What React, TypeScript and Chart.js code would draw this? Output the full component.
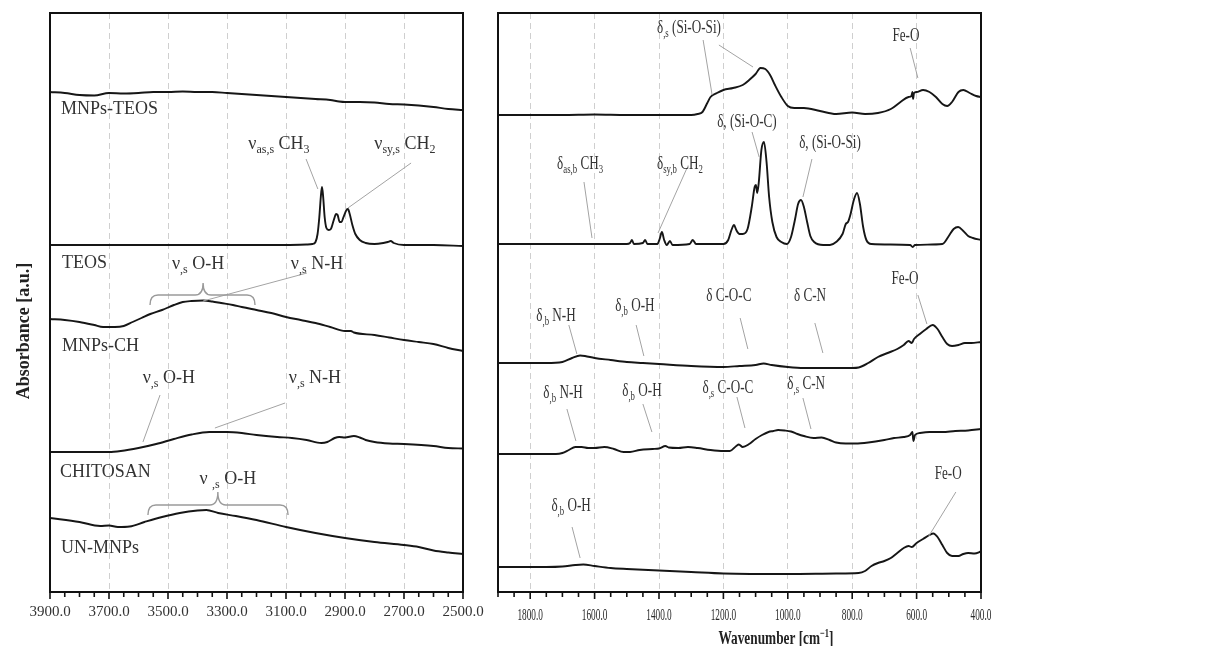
import React, { useEffect, useRef } from 'react';
import { Chart, registerables } from 'chart.js';

Chart.register(...registerables);

const SERIF = '"Liberation Serif", "Times New Roman", serif';
const INK = '#161616';
const TEXT = '#333333';
const LEADER = '#a3a3a3';
const GRID = '#cfcfcf';

type Pt = [number, number];

// ---------- left panel: 3900–2500 cm-1 (absorbance, offset, a.u.) ----------
const HI_TICK_LABELS = ['3900.0', '3700.0', '3500.0', '3300.0', '3100.0', '2900.0', '2700.0', '2500.0'];

const HI_MNPS_TEOS: Pt[] = [
  [3900, 5.0], [3850, 4.99], [3800, 4.97], [3750, 4.965], [3700, 4.99], [3650, 4.985], [3600, 4.99],
  [3550, 5.0], [3500, 5.0], [3450, 5.005], [3400, 5.0], [3350, 5.0], [3300, 4.99], [3250, 4.98],
  [3200, 4.97], [3150, 4.96], [3100, 4.95], [3050, 4.94], [3000, 4.93], [2950, 4.92], [2920, 4.905],
  [2900, 4.9], [2850, 4.9], [2800, 4.895], [2750, 4.88], [2700, 4.875], [2650, 4.865], [2600, 4.85],
  [2550, 4.83], [2500, 4.82],
];
const HI_TEOS: Pt[] = [
  [3900, 3.47], [3700, 3.47], [3500, 3.47], [3300, 3.47], [3100, 3.47], [3030, 3.475], [3010, 3.48],
  [3000, 3.5], [2993, 3.58], [2987, 3.75], [2982, 3.95], [2978, 4.05], [2974, 3.95], [2969, 3.75],
  [2963, 3.64], [2955, 3.62], [2948, 3.63], [2938, 3.72], [2930, 3.78], [2925, 3.77], [2918, 3.7],
  [2912, 3.7], [2905, 3.75], [2895, 3.82], [2890, 3.83], [2884, 3.78], [2875, 3.67], [2865, 3.58],
  [2850, 3.52], [2830, 3.49], [2800, 3.48], [2770, 3.49], [2755, 3.5], [2745, 3.51], [2735, 3.49],
  [2700, 3.47], [2600, 3.47], [2500, 3.46],
];
const HI_MNPS_CH: Pt[] = [
  [3900, 2.73], [3850, 2.72], [3800, 2.7], [3750, 2.67], [3720, 2.65], [3680, 2.65], [3650, 2.66],
  [3620, 2.7], [3590, 2.74], [3560, 2.78], [3520, 2.82], [3480, 2.87], [3450, 2.9], [3420, 2.91],
  [3380, 2.915], [3350, 2.905], [3320, 2.89], [3280, 2.87], [3250, 2.85], [3200, 2.82], [3150, 2.79],
  [3100, 2.75], [3050, 2.72], [3000, 2.69], [2950, 2.65], [2900, 2.61], [2880, 2.61], [2870, 2.595],
  [2800, 2.57], [2750, 2.545], [2700, 2.52], [2650, 2.5], [2600, 2.48], [2550, 2.44], [2500, 2.41],
];
const HI_CHITOSAN: Pt[] = [
  [3900, 1.4], [3800, 1.4], [3700, 1.4], [3660, 1.41], [3600, 1.44], [3540, 1.48], [3480, 1.53],
  [3420, 1.575], [3360, 1.6], [3300, 1.6], [3250, 1.59], [3200, 1.57], [3130, 1.55], [3080, 1.54],
  [3030, 1.52], [2980, 1.49], [2960, 1.5], [2935, 1.54], [2920, 1.55], [2900, 1.545], [2870, 1.56],
  [2850, 1.545], [2830, 1.52], [2800, 1.5], [2750, 1.485], [2700, 1.48], [2600, 1.46], [2550, 1.44],
  [2500, 1.435],
];
const HI_UN_MNPS: Pt[] = [
  [3900, 0.74], [3800, 0.7], [3730, 0.66], [3700, 0.665], [3670, 0.65], [3630, 0.655], [3580, 0.7],
  [3520, 0.75], [3460, 0.79], [3400, 0.815], [3370, 0.82], [3330, 0.79], [3270, 0.76], [3200, 0.72],
  [3100, 0.65], [3000, 0.59], [2900, 0.54], [2800, 0.5], [2700, 0.47], [2650, 0.45], [2600, 0.415],
  [2550, 0.395], [2500, 0.38],
];

// ---------- right panel: 1900–400 cm-1 ----------
const LO_TICK_LABELS = ['1800.0', '1600.0', '1400.0', '1200.0', '1000.0', '800.0', '600.0', '400.0'];

const LO_MNPS_TEOS: Pt[] = [
  [1900, 4.77], [1800, 4.77], [1700, 4.77], [1600, 4.775], [1500, 4.77], [1400, 4.77], [1300, 4.77],
  [1280, 4.78], [1265, 4.8], [1250, 4.89], [1240, 4.95], [1220, 4.99], [1200, 5.02], [1170, 5.04],
  [1140, 5.07], [1120, 5.12], [1100, 5.18], [1085, 5.24], [1070, 5.23], [1055, 5.17], [1040, 5.07],
  [1020, 4.95], [1000, 4.86], [980, 4.84], [950, 4.84], [900, 4.81], [850, 4.78], [800, 4.795],
  [760, 4.78], [720, 4.79], [680, 4.83], [650, 4.9], [625, 4.95], [616, 4.96], [613, 5.0], [611, 4.93],
  [608, 4.99], [600, 5.0], [580, 5.02], [560, 5.0], [540, 4.95], [520, 4.88], [505, 4.86], [490, 4.9],
  [470, 5.0], [455, 5.02], [435, 4.99], [415, 4.96], [400, 4.95],
];
const LO_TEOS: Pt[] = [
  [1900, 3.48], [1700, 3.48], [1500, 3.48], [1490, 3.49], [1484, 3.52], [1478, 3.48], [1450, 3.49],
  [1443, 3.52], [1436, 3.48], [1405, 3.48], [1398, 3.53], [1391, 3.6], [1384, 3.52], [1376, 3.47],
  [1366, 3.51], [1358, 3.47], [1305, 3.48], [1295, 3.52], [1285, 3.48], [1200, 3.48], [1185, 3.52],
  [1175, 3.62], [1167, 3.67], [1160, 3.62], [1150, 3.58], [1140, 3.58], [1125, 3.63], [1112, 3.85],
  [1103, 4.05], [1099, 4.07], [1095, 3.99], [1090, 4.1], [1082, 4.42], [1074, 4.5], [1066, 4.3],
  [1058, 3.95], [1048, 3.7], [1035, 3.55], [1020, 3.5], [1003, 3.48], [990, 3.55], [978, 3.72],
  [968, 3.88], [959, 3.92], [950, 3.85], [940, 3.7], [930, 3.56], [918, 3.5], [890, 3.47], [869, 3.47],
  [850, 3.5], [830, 3.58], [820, 3.68], [813, 3.7], [805, 3.78], [795, 3.92], [785, 3.99], [776, 3.88],
  [766, 3.65], [756, 3.52], [740, 3.48], [620, 3.47], [612, 3.45], [605, 3.47], [520, 3.48],
  [500, 3.56], [485, 3.63], [471, 3.65], [455, 3.61], [440, 3.56], [425, 3.54], [400, 3.52],
];
const LO_MNPS_CH: Pt[] = [
  [1900, 2.29], [1800, 2.29], [1750, 2.29], [1700, 2.3], [1670, 2.34], [1645, 2.365], [1630, 2.36],
  [1600, 2.34], [1550, 2.32], [1500, 2.3], [1450, 2.29], [1400, 2.28], [1300, 2.26], [1200, 2.25],
  [1150, 2.26], [1100, 2.27], [1075, 2.285], [1050, 2.27], [1000, 2.25], [950, 2.24], [900, 2.24],
  [850, 2.24], [800, 2.24], [780, 2.245], [750, 2.29], [720, 2.35], [690, 2.39], [660, 2.43],
  [640, 2.47], [625, 2.51], [615, 2.49], [608, 2.53], [590, 2.58], [570, 2.63], [550, 2.67],
  [535, 2.63], [520, 2.55], [505, 2.48], [490, 2.46], [470, 2.47], [450, 2.49], [430, 2.49], [400, 2.5],
];
const LO_CHITOSAN: Pt[] = [
  [1900, 1.38], [1800, 1.38], [1720, 1.38], [1700, 1.39], [1680, 1.42], [1660, 1.45], [1640, 1.45],
  [1620, 1.44], [1600, 1.44], [1570, 1.45], [1540, 1.43], [1510, 1.4], [1490, 1.4], [1460, 1.42],
  [1420, 1.43], [1400, 1.435], [1380, 1.46], [1370, 1.445], [1340, 1.44], [1310, 1.45], [1280, 1.44],
  [1240, 1.42], [1200, 1.41], [1180, 1.41], [1160, 1.46], [1152, 1.475], [1140, 1.45], [1120, 1.48],
  [1100, 1.53], [1080, 1.57], [1060, 1.6], [1045, 1.61], [1030, 1.62], [1010, 1.615], [990, 1.605],
  [970, 1.58], [950, 1.56], [920, 1.54], [895, 1.545], [870, 1.52], [850, 1.495], [820, 1.485],
  [790, 1.485], [750, 1.495], [700, 1.52], [670, 1.54], [640, 1.55], [620, 1.57], [613, 1.6],
  [610, 1.51], [605, 1.57], [590, 1.59], [560, 1.6], [520, 1.6], [480, 1.61], [440, 1.615], [400, 1.63],
];
const LO_UN_MNPS: Pt[] = [
  [1900, 0.25], [1800, 0.25], [1750, 0.25], [1700, 0.255], [1660, 0.27], [1635, 0.275], [1600, 0.26],
  [1550, 0.24], [1500, 0.23], [1400, 0.215], [1300, 0.2], [1200, 0.185], [1000, 0.18], [850, 0.185],
  [780, 0.19], [760, 0.21], [740, 0.26], [720, 0.29], [700, 0.31], [680, 0.34], [660, 0.39],
  [640, 0.44], [625, 0.46], [615, 0.45], [600, 0.49], [580, 0.53], [560, 0.57], [548, 0.585],
  [535, 0.55], [520, 0.47], [505, 0.39], [490, 0.36], [470, 0.36], [455, 0.38], [440, 0.39],
  [420, 0.385], [400, 0.405],
];

const SERIES_NAMES = ['MNPs-TEOS', 'TEOS', 'MNPs-CH', 'CHITOSAN', 'UN-MNPs'];

// ---------- annotations (data coordinates) ----------
type Note = { text: string; at: Pt; lines?: [number, number, number, number][] };
type Brace = { from: number; to: number; tip: number; end: number; mid: number; top: number };

const HI_NOTES: Note[] = [
  { text: 'ν_{as,s} CH_{3}', at: [3124, 4.49], lines: [[3032, 4.33, 2992, 4.03]] },
  { text: 'ν_{sy,s} CH_{2}', at: [2697, 4.49], lines: [[2676, 4.29, 2890, 3.84]] },
  { text: 'ν_{,s} O-H', at: [3398, 3.29] },
  { text: 'ν_{,s} N-H', at: [2995, 3.29], lines: [[3029, 3.19, 3381, 2.91]] },
  { text: 'ν_{,s} O-H', at: [3497, 2.15], lines: [[3527, 1.97, 3585, 1.5]] },
  { text: 'ν_{,s} N-H', at: [3002, 2.15], lines: [[3103, 1.89, 3341, 1.64]] },
  { text: 'ν _{,s} O-H', at: [3297, 1.14] },
];
const HI_BRACES: Brace[] = [
  { from: 3561, to: 3205, tip: 3381, end: 2.87, mid: 2.97, top: 3.09 },
  { from: 3568, to: 3093, tip: 3331, end: 0.77, mid: 0.87, top: 1.0 },
];
const HI_LABEL_POS: Pt[] = [[3863, 4.84], [3859, 3.3], [3859, 2.47], [3866, 1.21], [3863, 0.45]];

const LO_NOTES: Note[] = [
  { text: 'δ_{,s} (Si-O-Si)', at: [1307, 5.65], lines: [[1263, 5.52, 1235, 4.97], [1214, 5.47, 1108, 5.25]] },
  { text: 'Fe-O', at: [633, 5.57], lines: [[620, 5.44, 596, 5.14]] },
  { text: 'δ, (Si-O-C)', at: [1127, 4.71], lines: [[1111, 4.6, 1089, 4.35]] },
  { text: 'δ, (Si-O-Si)', at: [869, 4.5], lines: [[925, 4.33, 953, 3.95]] },
  { text: 'δ_{as,b} CH_{3}', at: [1645, 4.29], lines: [[1633, 4.1, 1608, 3.54]] },
  { text: 'δ_{sy,b} CH_{2}', at: [1335, 4.29], lines: [[1313, 4.24, 1403, 3.59]] },
  { text: 'Fe-O', at: [636, 3.14], lines: [[596, 2.97, 568, 2.68]] },
  { text: 'δ C-O-C', at: [1183, 2.97], lines: [[1148, 2.74, 1124, 2.43]] },
  { text: 'δ C-N', at: [931, 2.97], lines: [[916, 2.69, 891, 2.39]] },
  { text: 'δ_{,b} N-H', at: [1720, 2.77], lines: [[1680, 2.67, 1655, 2.38]] },
  { text: 'δ_{,b} O-H', at: [1475, 2.87], lines: [[1471, 2.67, 1447, 2.36]] },
  { text: 'δ_{,b} N-H', at: [1698, 2.0], lines: [[1686, 1.83, 1658, 1.51]] },
  { text: 'δ_{,b} O-H', at: [1453, 2.02], lines: [[1450, 1.88, 1422, 1.6]] },
  { text: 'δ_{,s} C-O-C', at: [1186, 2.05], lines: [[1158, 1.95, 1133, 1.64]] },
  { text: 'δ_{,s} C-N', at: [943, 2.09], lines: [[953, 1.94, 928, 1.63]] },
  { text: 'δ_{,b} O-H', at: [1673, 0.87], lines: [[1670, 0.65, 1645, 0.34]] },
  { text: 'Fe-O', at: [502, 1.19], lines: [[478, 1.0, 562, 0.56]] },
];

const Y_TITLE = 'Absorbance [a.u.]';
const X_TITLE = 'Wavenumber [cm^{−1}]';

// ---------- drawing helpers ----------
type Seg = { t: string; k: number };
function parseRich(s: string): Seg[] {
  const segs: Seg[] = [];
  const re = /([_^])\{([^}]*)\}/g;
  let last = 0;
  let m: RegExpExecArray | null;
  while ((m = re.exec(s))) {
    if (m.index > last) segs.push({ t: s.slice(last, m.index), k: 0 });
    segs.push({ t: m[2], k: m[1] === '_' ? 1 : -1 });
    last = re.lastIndex;
  }
  if (last < s.length) segs.push({ t: s.slice(last), k: 0 });
  return segs;
}

function drawRich(
  ctx: CanvasRenderingContext2D,
  s: string,
  x: number,
  y: number,
  o: { size: number; sx: number; bold?: boolean; align?: 'left' | 'center'; color?: string },
) {
  const segs = parseRich(s);
  const w8 = o.bold ? 'bold ' : '';
  const main = `${w8}${o.size}px ${SERIF}`;
  const small = `${w8}${Math.round(o.size * 0.64)}px ${SERIF}`;
  let w = 0;
  for (const g of segs) {
    ctx.font = g.k ? small : main;
    w += ctx.measureText(g.t).width;
  }
  ctx.save();
  ctx.translate(x, y);
  ctx.scale(o.sx, 1);
  ctx.fillStyle = o.color || TEXT;
  ctx.textBaseline = 'alphabetic';
  ctx.textAlign = 'left';
  let cx = o.align === 'left' ? 0 : -w / 2;
  const base = o.size * 0.33;
  for (const g of segs) {
    ctx.font = g.k ? small : main;
    const dy = g.k === 1 ? o.size * 0.22 : g.k === -1 ? -o.size * 0.4 : 0;
    ctx.fillText(g.t, cx, base + dy);
    cx += ctx.measureText(g.t).width;
  }
  ctx.restore();
}

type Panel = {
  min: number;
  max: number;
  padL: number;
  padR: number;
  series: Pt[][];
  tickLabels: string[];
  notes: Note[];
  braces: Brace[];
  labelPos: Pt[];
  libTicks: boolean;
  sx: number;
  yTitle?: boolean;
  xTitle?: boolean;
};

const labelFor = (p: Panel, v: number) => p.tickLabels.find((l) => parseFloat(l) === v) || '';

function overlay(p: Panel) {
  return {
    id: 'overlay',
    afterDraw(chart: any) {
      const ctx: CanvasRenderingContext2D = chart.ctx;
      const a = chart.chartArea;
      const xs = chart.scales.x;
      const ys = chart.scales.y;
      const X = (v: number) => xs.getPixelForValue(v);
      const Y = (v: number) => ys.getPixelForValue(v);
      ctx.save();
      // leader lines
      ctx.strokeStyle = LEADER;
      ctx.lineWidth = 1;
      for (const n of p.notes) {
        for (const l of n.lines || []) {
          ctx.beginPath();
          ctx.moveTo(X(l[0]), Y(l[1]));
          ctx.lineTo(X(l[2]), Y(l[3]));
          ctx.stroke();
        }
      }
      // braces
      ctx.strokeStyle = '#9a9a9a';
      ctx.lineWidth = 1.4;
      for (const b of p.braces) {
        const x1 = X(b.from), x2 = X(b.to), xt = X(b.tip);
        const ye = Y(b.end), ym = Y(b.mid), yt = Y(b.top);
        const r = 8;
        ctx.beginPath();
        ctx.moveTo(x1, ye);
        ctx.quadraticCurveTo(x1, ym, x1 + r, ym);
        ctx.lineTo(xt - r, ym);
        ctx.quadraticCurveTo(xt, ym, xt, yt);
        ctx.quadraticCurveTo(xt, ym, xt + r, ym);
        ctx.lineTo(x2 - r, ym);
        ctx.quadraticCurveTo(x2, ym, x2, ye);
        ctx.stroke();
      }
      // annotation text
      for (const n of p.notes) {
        drawRich(ctx, n.text, X(n.at[0]), Y(n.at[1]), { size: 18, sx: p.sx });
      }
      // series labels
      p.labelPos.forEach((pos, i) => {
        drawRich(ctx, SERIES_NAMES[i], X(pos[0]), Y(pos[1]), { size: 18, sx: p.sx, align: 'left' });
      });
      // frame
      ctx.strokeStyle = '#111';
      ctx.lineWidth = 2;
      ctx.strokeRect(a.left, a.top, a.right - a.left, a.bottom - a.top);
      // tick marks
      ctx.lineWidth = 1.6;
      for (const t of xs.ticks) {
        const px = X(t.value);
        const major = labelFor(p, t.value) !== '';
        ctx.beginPath();
        ctx.moveTo(px, a.bottom);
        ctx.lineTo(px, a.bottom + (major ? 7 : 5));
        ctx.stroke();
      }
      // compressed tick labels (right panel)
      if (!p.libTicks) {
        for (const t of xs.ticks) {
          const lab = labelFor(p, t.value);
          if (lab) drawRich(ctx, lab, X(t.value), a.bottom + 23, { size: 16, sx: 0.58, color: '#2a2a2a' });
        }
      }
      if (p.xTitle) {
        drawRich(ctx, X_TITLE, 286, 638, { size: 19, sx: 0.7, bold: true, color: '#222' });
      }
      if (p.yTitle) {
        ctx.save();
        ctx.translate(23, 331);
        ctx.rotate(-Math.PI / 2);
        drawRich(ctx, Y_TITLE, 0, 0, { size: 18, sx: 1, bold: true, color: '#222' });
        ctx.restore();
      }
      ctx.restore();
    },
  };
}

function buildChart(canvas: HTMLCanvasElement, p: Panel) {
  const tickValues: number[] = [];
  for (let v = p.max; v >= p.min; v -= 50) tickValues.push(v);
  return new Chart(canvas, {
    type: 'line',
    data: {
      datasets: p.series.map((pts, i) => ({
        label: SERIES_NAMES[i],
        data: pts.map(([x, y]) => ({ x, y })),
        borderColor: INK,
        borderWidth: 1.9,
        pointRadius: 0,
        cubicInterpolationMode: 'monotone',
        fill: false,
      })),
    },
    options: {
      animation: false,
      responsive: false,
      maintainAspectRatio: false,
      events: [],
      layout: { padding: { left: p.padL, right: p.padR, top: 13, bottom: 0 } },
      plugins: { legend: { display: false }, tooltip: { enabled: false } },
      scales: {
        x: {
          type: 'linear',
          min: p.min,
          max: p.max,
          reverse: true,
          afterBuildTicks: (sc: any) => {
            sc.ticks = tickValues.map((v) => ({ value: v }));
          },
          afterFit: (sc: any) => {
            sc.height = 54;
          },
          grid: {
            drawTicks: false,
            lineWidth: 1,
            color: (c: any) => {
              const v = c.tick ? c.tick.value : NaN;
              if (v === p.min || v === p.max) return 'rgba(0,0,0,0)';
              return labelFor(p, v) ? GRID : 'rgba(0,0,0,0)';
            },
          },
          border: { display: false, dash: [6, 4] },
          ticks: {
            display: p.libTicks,
            autoSkip: false,
            maxRotation: 0,
            minRotation: 0,
            padding: 11,
            color: TEXT,
            font: { family: SERIF, size: 15 },
            callback: (v: any) => labelFor(p, Number(v)),
          },
        },
        y: { display: false, min: 0, max: 5.79 },
      },
    },
    plugins: [overlay(p)],
  } as any);
}

const LEFT: Panel = {
  min: 2500,
  max: 3900,
  padL: 50,
  padR: 47,
  series: [HI_MNPS_TEOS, HI_TEOS, HI_MNPS_CH, HI_CHITOSAN, HI_UN_MNPS],
  tickLabels: HI_TICK_LABELS,
  notes: HI_NOTES,
  braces: HI_BRACES,
  labelPos: HI_LABEL_POS,
  libTicks: true,
  sx: 1,
  yTitle: true,
};

const RIGHT: Panel = {
  min: 400,
  max: 1900,
  padL: 8,
  padR: 39,
  series: [LO_MNPS_TEOS, LO_TEOS, LO_MNPS_CH, LO_CHITOSAN, LO_UN_MNPS],
  tickLabels: LO_TICK_LABELS,
  notes: LO_NOTES,
  braces: [],
  labelPos: [],
  libTicks: false,
  sx: 0.73,
  xTitle: true,
};

export default function App() {
  const leftRef = useRef<HTMLCanvasElement>(null);
  const rightRef = useRef<HTMLCanvasElement>(null);
  useEffect(() => {
    const a = buildChart(leftRef.current as HTMLCanvasElement, LEFT);
    const b = buildChart(rightRef.current as HTMLCanvasElement, RIGHT);
    return () => {
      a.destroy();
      b.destroy();
    };
  }, []);
  return (
    <div style={{ position: 'fixed', left: 0, top: 0, width: 1207, height: 646, background: '#fff' }}>
      <canvas
        ref={leftRef}
        width={510}
        height={646}
        style={{ position: 'absolute', left: 0, top: 0, width: 510, height: 646 }}
      />
      <canvas
        ref={rightRef}
        width={530}
        height={646}
        style={{ position: 'absolute', left: 490, top: 0, width: 530, height: 646 }}
      />
    </div>
  );
}
